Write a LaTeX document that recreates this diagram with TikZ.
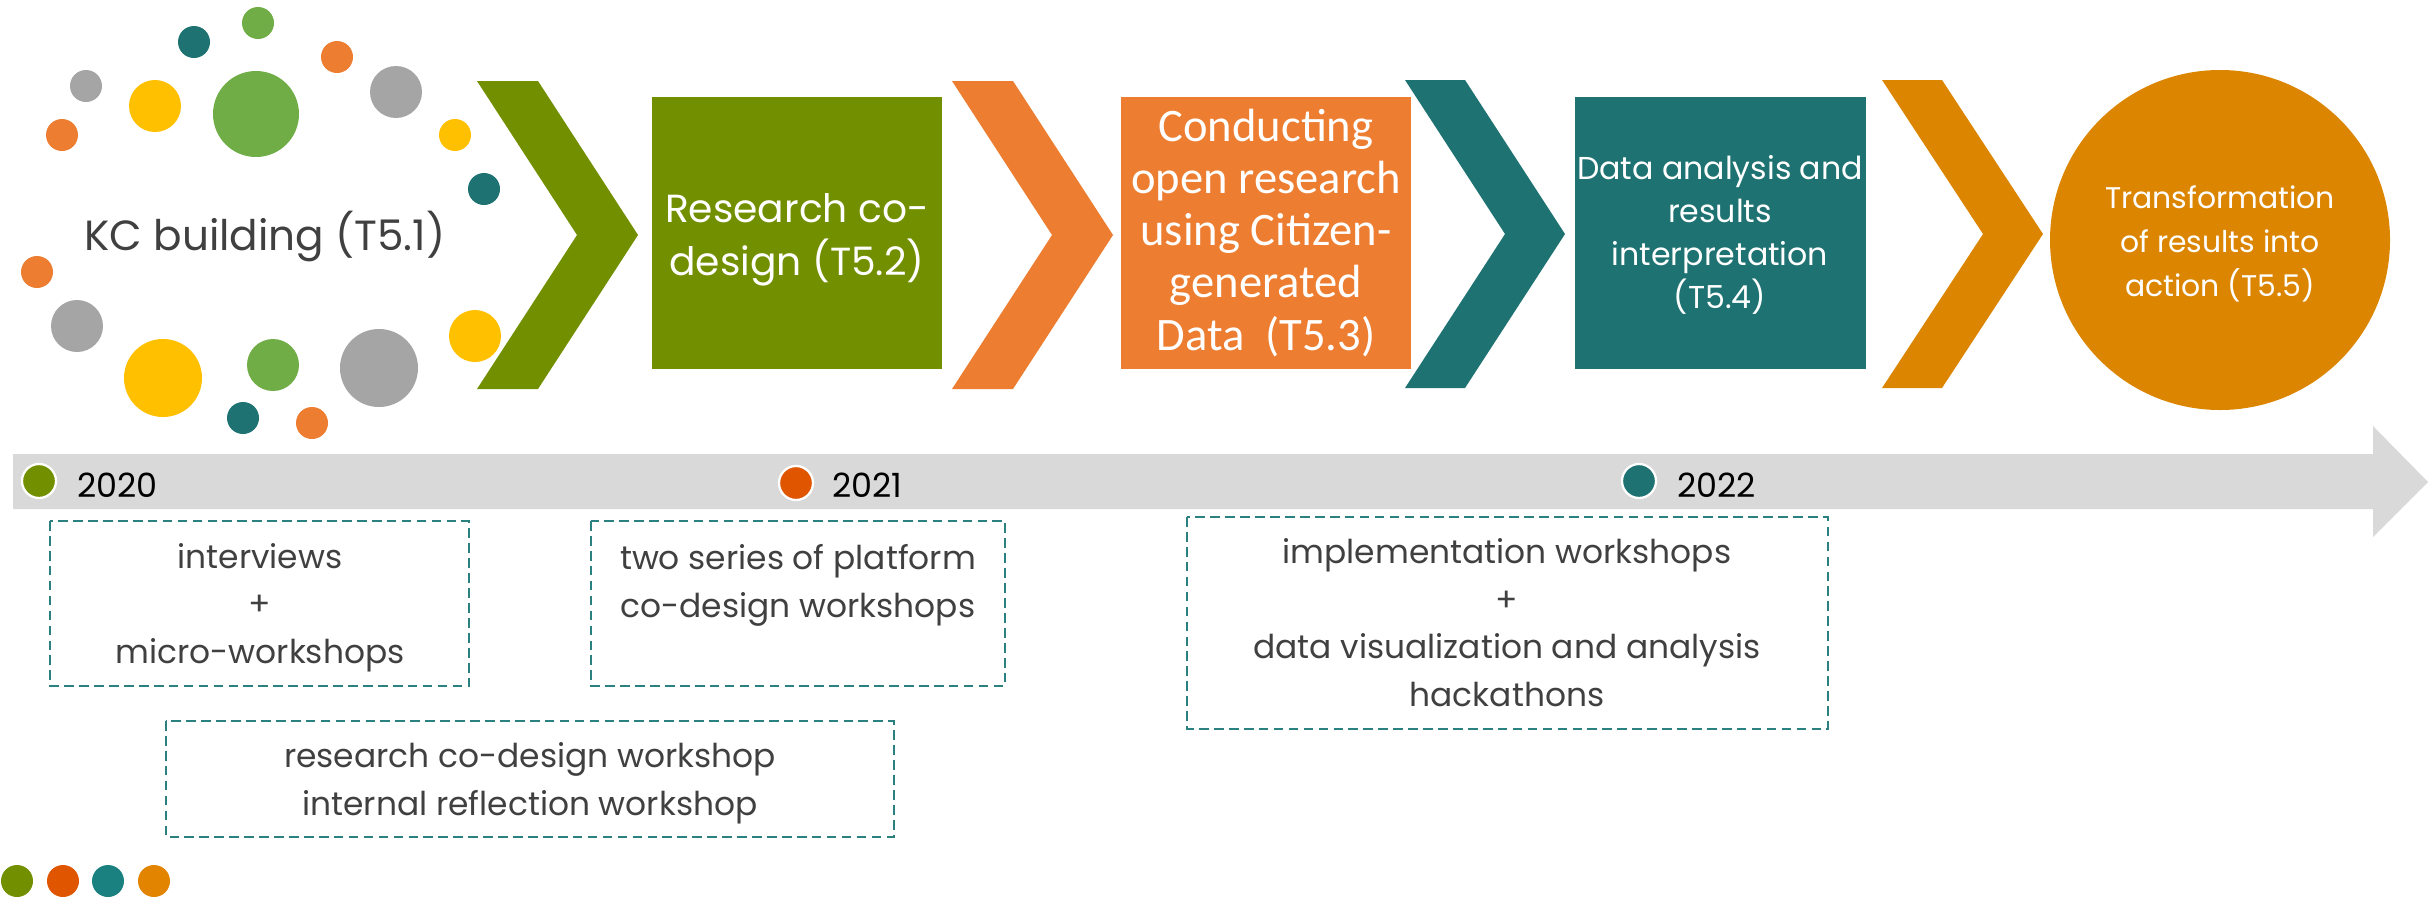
\documentclass[tikz,border=0pt]{standalone}
\usepackage{fontspec}
\setmainfont{Poppins}
\newfontfamily\calibrifont{Carlito}
\usetikzlibrary{positioning}

\definecolor{olivegreen}{HTML}{728F00}
\definecolor{orangeA}{HTML}{ED7D31}
\definecolor{tealA}{HTML}{1E7272}
\definecolor{amberA}{HTML}{DB8500}
\definecolor{leafgreen}{HTML}{70AD47}
\definecolor{sunyellow}{HTML}{FFC000}
\definecolor{midgray}{HTML}{A5A5A5}
\definecolor{linegray}{HTML}{D9D9D9}
\definecolor{redorange}{HTML}{E05500}
\definecolor{dashteal}{HTML}{2B8080}
\definecolor{textgray}{HTML}{404040}

\begin{document}
\begin{tikzpicture}[x=0.2mm, y=-0.2mm,
  dashbox/.style={draw=dashteal, dash pattern=on 5.5pt off 3pt, line width=1.1pt},
  yeardot/.style={draw=white, line width=1.3pt},
  boxtext/.style={text=textgray, align=center, anchor=base, inner sep=0pt,
    font=\fontsize{18.7}{27}\selectfont},
  steptext/.style={text=white, align=center, anchor=base, inner sep=0pt},
  yeartext/.style={anchor=base west, inner sep=0pt, font=\fontsize{19}{22}\selectfont}]
  \useasboundingbox (0,0) rectangle (2431,900);

  % Dots round the first step
  \fill[leafgreen] (258,23) circle (16);
  \fill[tealA] (194,42) circle (16);
  \fill[orangeA] (337,57) circle (16);
  \fill[midgray] (86,86) circle (16);
  \fill[sunyellow] (155,106) circle (26);
  \fill[leafgreen] (256,114) circle (43);
  \fill[midgray] (396,92) circle (26);
  \fill[orangeA] (62,135) circle (16);
  \fill[sunyellow] (455,135) circle (16);
  \fill[tealA] (484,189) circle (16);
  \fill[orangeA] (37,272) circle (16);
  \fill[midgray] (77,326) circle (26);
  \fill[sunyellow] (475,336) circle (26);
  \fill[sunyellow] (163,378) circle (39);
  \fill[leafgreen] (273,365) circle (26);
  \fill[midgray] (379,368) circle (39);
  \fill[tealA] (243,418) circle (16);
  \fill[orangeA] (312,423) circle (16);
  \node[anchor=base, inner sep=0pt, text=textgray, font=\fontsize{24}{30}\selectfont]
    (kc) at (265,250) {KC building (T5.1)};

  % Chevrons
  \fill[olivegreen] (477,81) -- ++(61,0) -- ++(100,154) -- ++(-100,154) -- ++(-61,0) -- ++(100,-154) -- cycle;
  \fill[orangeA] (952,81) -- ++(61,0) -- ++(100,154) -- ++(-100,154) -- ++(-61,0) -- ++(100,-154) -- cycle;
  \fill[tealA] (1405,80) -- ++(60,0) -- ++(100,154) -- ++(-100,154) -- ++(-60,0) -- ++(100,-154) -- cycle;
  \fill[amberA] (1882,80) -- ++(60,0) -- ++(101,154) -- ++(-101,154) -- ++(-60,0) -- ++(101,-154) -- cycle;

  % Steps
  \fill[olivegreen] (652,97) rectangle (942,369);
  \node[steptext, font=\fontsize{22.3}{30}\selectfont] (codesign) at (797,275)
    {Research co-\\design (T5.2)};
  \fill[orangeA] (1121,97) rectangle (1411,369);
  \node[steptext, font=\calibrifont\fontsize{26.5}{29.6}\selectfont] (conduct) at (1266,350)
    {Conducting\\open research\\using Citizen-\\generated\\Data~~(T5.3)};
  \fill[tealA] (1575,97) rectangle (1866,369);
  \node[steptext, font=\fontsize{18}{24.3}\selectfont] (analysis) at (1720,308)
    {Data analysis and\\results\\interpretation\\(T5.4)};
  \fill[amberA] (2220,240) circle (170);
  \node[steptext, font=\fontsize{17}{25}\selectfont] (action) at (2220,296)
    {Transformation\\of results into\\action (T5.5)};

  % Time line
  \fill[linegray] (13,454) -- (2373,454) -- (2373,426) -- (2428,482) -- (2373,537)
    -- (2373,509) -- (13,509) -- cycle;
  \filldraw[yeardot, fill=olivegreen] (39,481) circle (17);
  \node[yeartext] (y2020) at (77,497) {2020};
  \filldraw[yeardot, fill=redorange] (796,483) circle (17);
  \node[yeartext] (y2021) at (832,497) {2021};
  \filldraw[yeardot, fill=tealA] (1639,481) circle (17);
  \node[yeartext] (y2022) at (1677,497) {2022};

  % Activities
  \draw[dashbox] (50,521) rectangle (469,686);
  \node[boxtext] (interviews) at (260,663) {interviews\\+\\micro-workshops};
  \draw[dashbox] (591,521) rectangle (1005,686);
  \node[boxtext] (platform) at (798,617) {two series of platform\\co-design workshops};
  \draw[dashbox] (166,721) rectangle (894,837);
  \node[boxtext] (reflection) at (530,815) {research co-design workshop\\internal reflection workshop};
  \draw[dashbox] (1187,517) rectangle (1828,729);
  \node[boxtext] (hackathons) at (1507,706)
    {implementation workshops\\+\\data visualization and analysis\\hackathons};

  % Colour key
  \fill[olivegreen] (17,881) circle (16);
  \fill[redorange] (63,881) circle (16);
  \fill[tealA!90!cyan] (108,881) circle (16);
  \fill[amberA!80!orange] (154,881) circle (16);
\end{tikzpicture}
\end{document}
